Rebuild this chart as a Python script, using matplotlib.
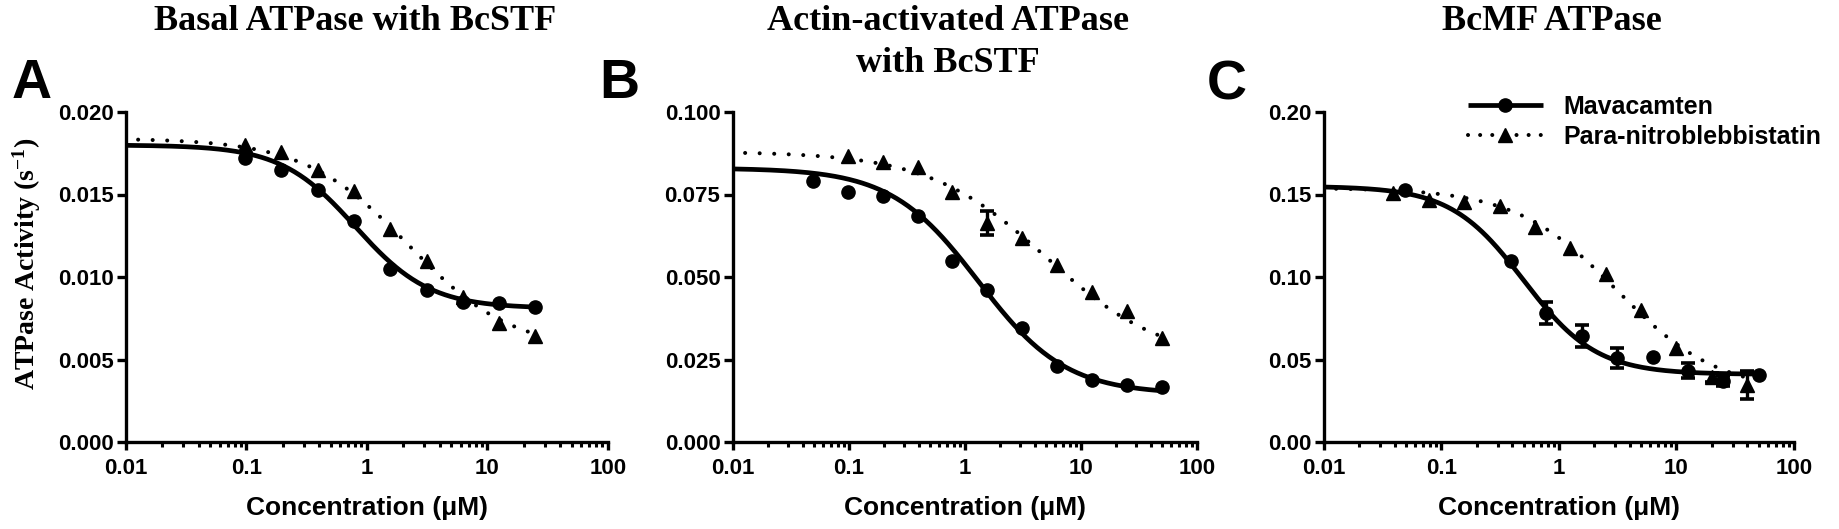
import numpy as np
import matplotlib
matplotlib.use("Agg")
import matplotlib.pyplot as plt
from matplotlib.lines import Line2D
from matplotlib.ticker import FixedLocator, LogLocator, NullFormatter, FixedFormatter

plt.rcParams['font.family'] = ['Liberation Sans', 'DejaVu Sans']
plt.rcParams['font.weight'] = 'bold'
plt.rcParams['mathtext.fontset'] = 'custom'
plt.rcParams['mathtext.rm'] = 'Liberation Serif:bold'
plt.rcParams['mathtext.it'] = 'Liberation Serif:bold'
plt.rcParams['mathtext.bf'] = 'Liberation Serif:bold'

# ---------------- data ----------------
titles = ["Basal ATPase with BcSTF", "Actin-activated ATPase\nwith BcSTF", "BcMF ATPase"]
panel_letters = ["A", "B", "C"]
series_names = ["Mavacamten", "Para-nitroblebbistatin"]
x_ticks = [0.01, 0.1, 1, 10, 100]
x_ticklabels = ["0.01", "0.1", "1", "10", "100"]
xlabel = "Concentration (\u03bcM)"
ylabel = "ATPase Activity (s$^{-1}$)"

# Panel A
conc_a = [0.0977, 0.195, 0.39, 0.78, 1.56, 3.125, 6.25, 12.5, 25]
mava_a = [0.0172, 0.0165, 0.0153, 0.0134, 0.0105, 0.0092, 0.0085, 0.0084, 0.0082]
pnb_a = [0.0180, 0.0176, 0.0165, 0.0152, 0.0129, 0.0110, 0.0088, 0.0072, 0.0064]
mava_a_fit = [0.0180, 0.0081, 0.80, 1.4]     # top, bottom, IC50, Hill
pnb_a_fit = [0.0184, 0.0055, 2.2, 1.0]
yticks_a = [0.000, 0.005, 0.010, 0.015, 0.020]
yticklabels_a = ["0.000", "0.005", "0.010", "0.015", "0.020"]

# Panel B
conc_b_mava = [0.0488, 0.0977, 0.195, 0.39, 0.78, 1.56, 3.125, 6.25, 12.5, 25, 50]
mava_b = [0.0792, 0.0758, 0.0746, 0.0686, 0.0548, 0.0461, 0.0345, 0.0229, 0.0188, 0.0172, 0.0167]
conc_b_pnb = [0.0977, 0.195, 0.39, 0.78, 1.56, 3.125, 6.25, 12.5, 25, 50]
pnb_b = [0.0867, 0.0847, 0.0833, 0.0759, 0.0664, 0.0617, 0.0535, 0.0456, 0.0398, 0.0314]
pnb_b_err = [0, 0, 0, 0, 0.0036, 0, 0, 0, 0, 0]
mava_b_fit = [0.083, 0.0145, 1.3, 1.15]
pnb_b_fit = [0.088, 0.024, 5.0, 0.85]
yticks_b = [0.000, 0.025, 0.050, 0.075, 0.100]
yticklabels_b = ["0.000", "0.025", "0.050", "0.075", "0.100"]

# Panel C
conc_c_mava = [0.0488, 0.39, 0.78, 1.56, 3.125, 6.25, 12.5, 25, 50]
mava_c = [0.1529, 0.1097, 0.0782, 0.0642, 0.0510, 0.0514, 0.0432, 0.0370, 0.0405]
mava_c_err = [0, 0, 0.0067, 0.0065, 0.0060, 0, 0.0046, 0.0033, 0]
conc_c_pnb = [0.039, 0.078, 0.156, 0.3125, 0.625, 1.25, 2.5, 5, 10, 20, 40]
pnb_c = [0.1512, 0.1467, 0.1457, 0.1430, 0.1302, 0.1177, 0.1019, 0.0802, 0.0572, 0.0391, 0.0344]
pnb_c_err = [0, 0, 0, 0, 0, 0, 0, 0, 0, 0.0030, 0.0085]
mava_c_fit = [0.155, 0.041, 0.50, 1.4]
pnb_c_fit = [0.154, 0.030, 3.1, 1.0]
yticks_c = [0.00, 0.05, 0.10, 0.15, 0.20]
yticklabels_c = ["0.00", "0.05", "0.10", "0.15", "0.20"]

# ---------------- figure ----------------
W, H = 1840, 529
fig = plt.figure(figsize=(W / 100, H / 100), dpi=100)


def fx(px):
    return px / W


def fy(py):
    return 1 - py / H


def logistic(x, p):
    top, bottom, ic50, hill = p
    return bottom + (top - bottom) / (1 + (x / ic50) ** hill)


LW_FIT = 3.4
MS_CIRC = 9.5
MS_TRI = 9.5
DOT_STYLE = (0.6, (0.01, 3.6))

axes_px = [(126, 608), (733, 1197), (1324, 1794)]
top_px, bot_px = 112, 442

panels = [
    dict(mx=conc_a, my=mava_a, me=None, px=conc_a, py=pnb_a, pe=None,
         mfit=mava_a_fit, pfit=pnb_a_fit, mend=25, pend=25,
         yt=yticks_a, ytl=yticklabels_a),
    dict(mx=conc_b_mava, my=mava_b, me=None, px=conc_b_pnb, py=pnb_b, pe=pnb_b_err,
         mfit=mava_b_fit, pfit=pnb_b_fit, mend=50, pend=50,
         yt=yticks_b, ytl=yticklabels_b),
    dict(mx=conc_c_mava, my=mava_c, me=mava_c_err, px=conc_c_pnb, py=pnb_c, pe=pnb_c_err,
         mfit=mava_c_fit, pfit=pnb_c_fit, mend=50, pend=40,
         yt=yticks_c, ytl=yticklabels_c),
]

title_pos = [(355, [titles[0]], [21]),
             (948, titles[1].split("\n"), [22, 63]),
             (1552, [titles[2]], [22])]
letter_pos = [(12, 98), (599, 98), (1207, 99)]

for i, (pan, (l, r)) in enumerate(zip(panels, axes_px)):
    ax = fig.add_axes([fx(l), fy(bot_px), (r - l) / W, (bot_px - top_px) / H])
    ax.set_xscale('log')
    ax.set_xlim(0.01, 100)
    ax.set_ylim(pan['yt'][0], pan['yt'][-1])

    # fitted curves
    xm = np.logspace(-2, np.log10(pan['mend']), 300)
    ax.plot(xm, logistic(xm, pan['mfit']), color='black', lw=LW_FIT,
            solid_capstyle='butt', zorder=3, clip_on=False)
    xp = np.logspace(-2, np.log10(pan['pend']), 300)
    ax.plot(xp, logistic(xp, pan['pfit']), color='black', lw=2.9,
            linestyle=DOT_STYLE, dash_capstyle='round', zorder=3, clip_on=False)

    # error bars
    if pan['me'] is not None:
        idx = [k for k, e in enumerate(pan['me']) if e > 0]
        ax.errorbar([pan['mx'][k] for k in idx], [pan['my'][k] for k in idx],
                    yerr=[pan['me'][k] for k in idx], fmt='none', ecolor='black',
                    elinewidth=2.4, capsize=4.7, capthick=2.6, zorder=4)
    if pan['pe'] is not None:
        idx = [k for k, e in enumerate(pan['pe']) if e > 0]
        ax.errorbar([pan['px'][k] for k in idx], [pan['py'][k] for k in idx],
                    yerr=[pan['pe'][k] for k in idx], fmt='none', ecolor='black',
                    elinewidth=2.4, capsize=4.7, capthick=2.6, zorder=4)

    # data points
    ax.plot(pan['mx'], pan['my'], linestyle='none', marker='o', ms=MS_CIRC,
            color='black', zorder=5, clip_on=False)
    ax.plot(pan['px'], pan['py'], linestyle='none', marker='^', ms=MS_TRI,
            color='black', zorder=5, clip_on=False)

    # axes styling
    for s in ['top', 'right']:
        ax.spines[s].set_visible(False)
    for s in ['left', 'bottom']:
        ax.spines[s].set_linewidth(2.4)
    ax.xaxis.set_major_locator(FixedLocator(x_ticks))
    ax.xaxis.set_major_formatter(FixedFormatter(x_ticklabels))
    ax.xaxis.set_minor_locator(LogLocator(base=10, subs=np.arange(2, 10)))
    ax.xaxis.set_minor_formatter(NullFormatter())
    ax.set_yticks(pan['yt'])
    ax.set_yticklabels(pan['ytl'])
    ax.tick_params(axis='x', which='major', direction='out', length=5.6, width=2.4,
                   labelsize=16, pad=6)
    ax.tick_params(axis='x', which='minor', direction='out', length=3.4, width=2.2)
    ax.tick_params(axis='y', which='major', direction='out', length=6.5, width=2.4,
                   labelsize=16, pad=2.5)
    ax.patch.set_visible(False)

    # x label
    fig.text(fx((l + r) / 2), fy(515), xlabel, ha='center', va='baseline',
             fontsize=19, fontweight='bold')

    # title
    cx, lines, ys = title_pos[i]
    for line, yy in zip(lines, ys):
        fig.text(fx(cx), fy(yy), line, ha='center', va='center',
                 fontsize=26, fontweight='bold', family='Liberation Serif')

    # panel letter
    lx, ly = letter_pos[i]
    fig.text(fx(lx), fy(ly), panel_letters[i], ha='left', va='baseline',
             fontsize=40, fontweight='bold')

    if i == 2:
        handles = [
            Line2D([], [], color='black', lw=LW_FIT, marker='o', ms=MS_CIRC,
                   solid_capstyle='butt'),
            Line2D([], [], color='black', lw=2.9, linestyle=(0.0, (0.01, 3.0)),
                   dash_capstyle='round', marker='^', ms=MS_TRI),
        ]
        fig.legend(handles, series_names, loc='center left',
                   bbox_to_anchor=(fx(1468), fy(122)), frameon=False,
                   borderpad=0, borderaxespad=0, handlelength=3.0,
                   handletextpad=0.8, labelspacing=0.25, numpoints=1,
                   prop={'size': 18, 'weight': 'bold'})

# y label
fig.text(fx(27), fy(264), ylabel, rotation=90, ha='center', va='center',
         fontsize=20, fontweight='bold', family='Liberation Serif')

fig.savefig('out.png', dpi=100)
